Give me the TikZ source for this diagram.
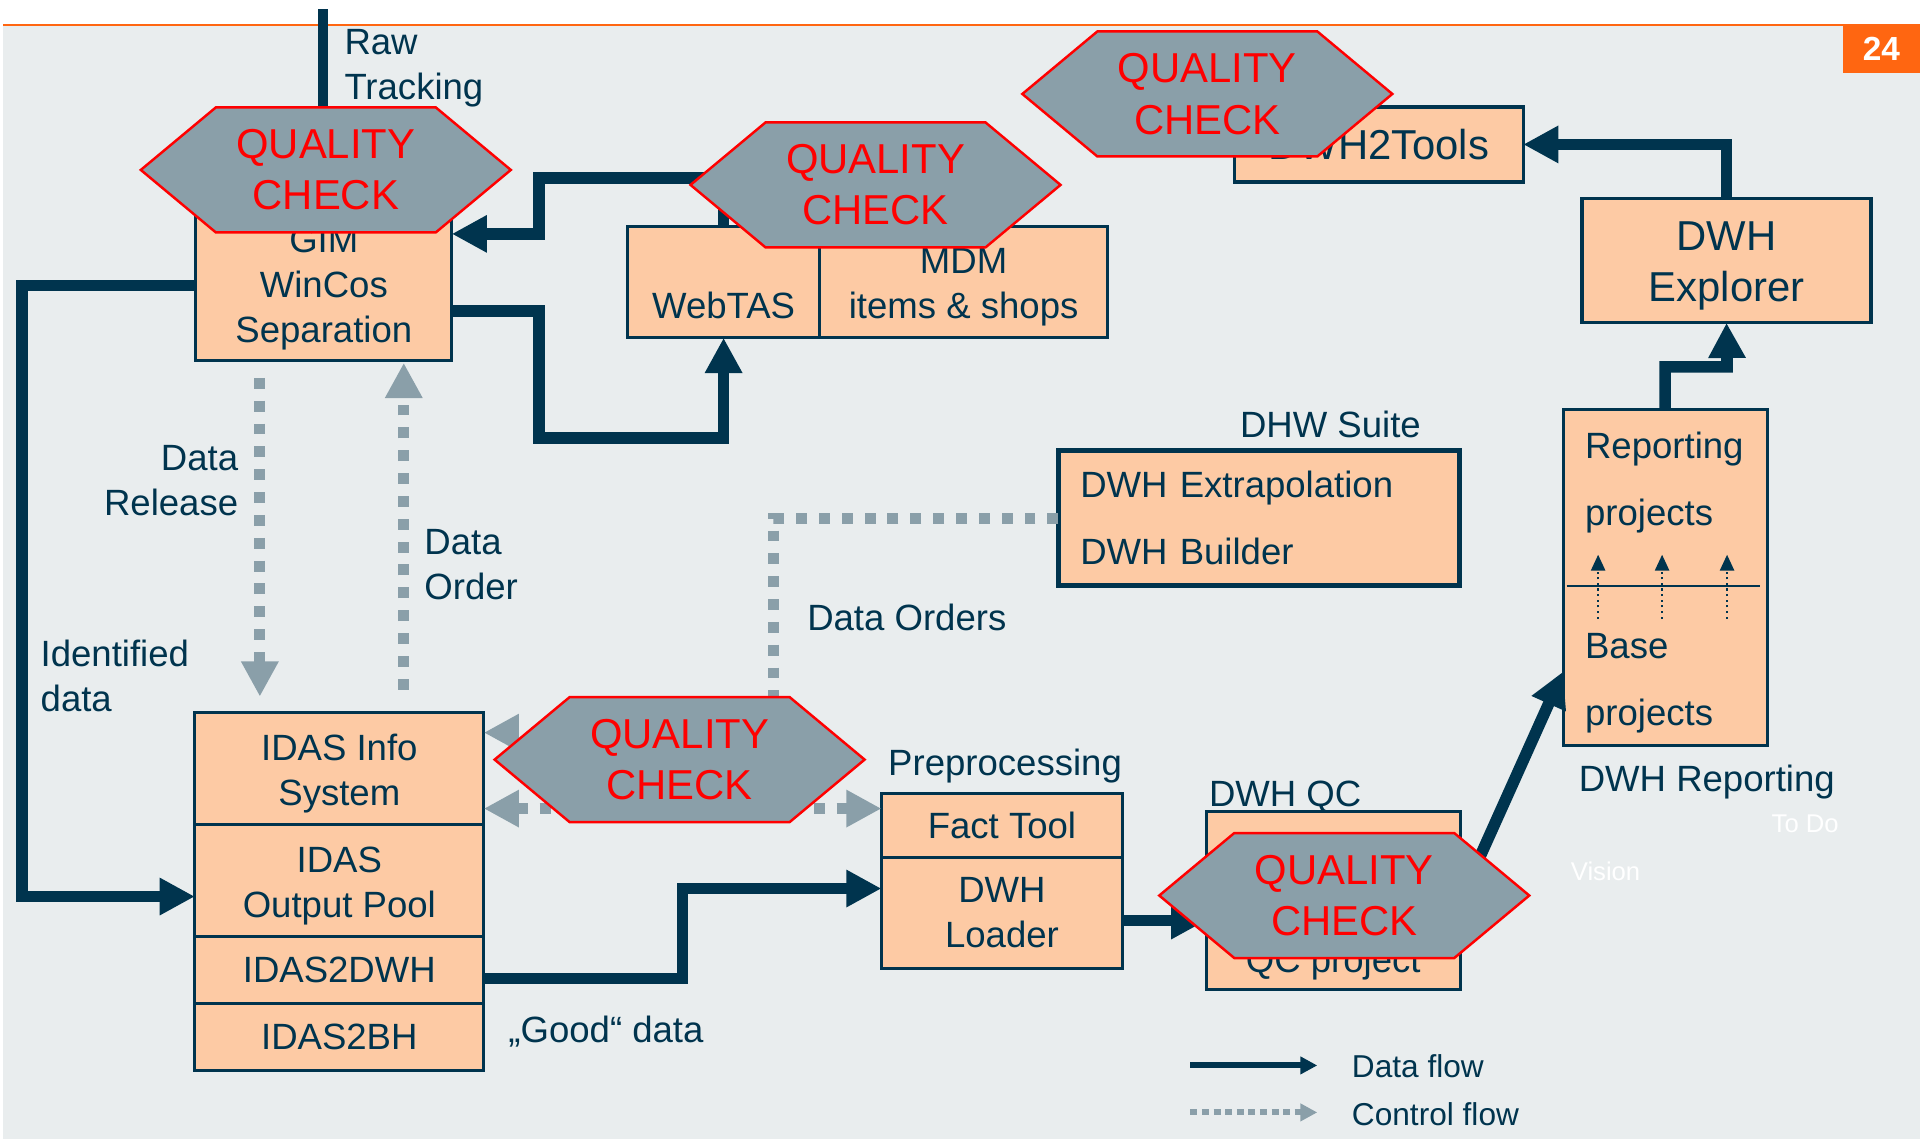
\documentclass[tikz,border=0pt]{standalone}
\usepackage{fontspec}
\setmainfont{Liberation Sans}
\usetikzlibrary{arrows.meta, positioning, shapes.symbols}

\definecolor{navy}{HTML}{00344E}
\definecolor{peach}{HTML}{FDCAA4}
\definecolor{slate}{HTML}{8A9FA9}
\definecolor{panel}{HTML}{E9EDEE}
\definecolor{brand}{HTML}{FF6611}

\begin{document}
\begin{tikzpicture}[
    x=0.01cm, y=-0.01cm,
    font=\fontsize{10.4}{12.8}\selectfont,
    box/.style={rectangle, draw=navy, line width=0.9pt, fill=peach, text=navy, align=center, inner sep=0pt, outer sep=0pt},
    wide/.style={font=\fontsize{10.4}{19}\selectfont, align=left, inner xsep=0.22cm},
    big/.style={font=\fontsize{11.9}{14.6}\selectfont},
    txt/.style={text=navy, inner sep=0pt},
    check/.style={signal, signal to=west and east, signal pointer angle=79.6, draw=red, line width=0.7pt, fill=slate, text=red, align=center, minimum width=3.7cm, minimum height=1.25cm, inner sep=0pt, font=\fontsize{11.9}{14.6}\selectfont},
    flow/.style={line width=3.3pt, draw=navy, -{Triangle[length=10pt, width=10pt]}},
    ctrl/.style={line width=3.1pt, draw=slate, dash pattern=on 3.1pt off 3.4pt, -{Triangle[length=10pt, width=10pt]}},
]
% slide background
\fill[white] (0,0) rectangle (1921,1141);
\fill[panel] (3.5,25) rectangle (1921,1140);
\draw[brand, line width=0.6pt] (3.5,25) -- (1921,25);
\node[fill=brand, text=white, font=\fontsize{9.5}{11}\selectfont\bfseries, minimum width=0.77cm, minimum height=0.48cm, inner sep=0pt] (page) at (1882.5,49) {24};
\useasboundingbox (0,0) rectangle (1921,1141);

% systems
\node[box, minimum width=2.56cm, minimum height=1.51cm, text height=32.6pt, text depth=0pt] (gim) at (324,285.5) {GIM\\WinCos\\Separation};
\node[box, minimum width=1.92cm, minimum height=1.11cm, text height=20.3pt, text depth=0pt] (webtas) at (724,282.5) {WebTAS};
\node[box, minimum width=2.88cm, minimum height=1.11cm, text height=20.8pt, text depth=0pt, right=0pt of webtas] (mdm) {MDM\\items \& shops};
\node[box, big, minimum width=2.89cm, minimum height=0.75cm] (dwhtools) at (1379.5,144.5) {DWH2Tools};
\node[box, big, minimum width=2.89cm, minimum height=1.24cm, text height=23.4pt, text depth=0pt] (explorer) at (1727.5,261) {DWH\\Explorer};
\node[box, wide, text width=1.6cm, minimum height=3.36cm, text height=10.3pt] (reporting) at (1666,578) {Reporting\\projects\\\mbox{}\\Base\\projects};
\draw[navy, line width=0.6pt, shorten <=1pt, shorten >=2pt] (reporting.west |- 0,586) -- (reporting.east |- 0,586);
\foreach \x in {1599,1663,1728}
    \draw[navy, densely dotted, line width=0.6pt, -{Triangle[length=4.5pt, width=4pt]}] (\x,619) -- (\x,555);
\node[box, wide, text width=3.57cm, minimum height=1.35cm, line width=1.4pt] (suite) at (1259.5,518.5) {DWH Extrapolation\\DWH Builder};
\node[box, minimum width=2.54cm, minimum height=1.78cm, text height=40.9pt, text depth=0pt] (dwhqc) at (1334,901) {QC project};
\node[box, minimum width=2.41cm, minimum height=0.64cm] (facttool) at (1002.5,826) {Fact Tool};
\node[box, minimum width=2.41cm, minimum height=1.11cm, below=0pt of facttool] (loader) {DWH\\Loader};
\node[box, minimum width=2.89cm, minimum height=1.12cm, text height=21pt, text depth=0pt] (info) at (339.5,769) {IDAS Info\\System};
\node[box, minimum width=2.89cm, minimum height=1.12cm, text height=21pt, text depth=0pt, below=0pt of info] (pool) {IDAS\\Output Pool};
\node[box, minimum width=2.89cm, minimum height=0.67cm, below=0pt of pool] (todwh) {IDAS2DWH};
\node[box, minimum width=2.89cm, minimum height=0.67cm, below=0pt of todwh] (tobh) {IDAS2BH};

% labels
\node[txt, align=left, anchor=west] (raw) at (344,68) {Raw\\Tracking};
\node[txt, align=right, anchor=east] (release) at (239,480.5) {Data\\Release};
\node[txt, align=left, anchor=west] (order) at (424,565) {Data\\Order};
\node[txt, align=left, anchor=west] (identified) at (40,676) {Identified\\data};
\node[txt, anchor=base west] (orders) at (807,631) {Data Orders};
\node[txt, anchor=base west] (suitelbl) at (1240,438) {DHW Suite};
\node[txt, anchor=base west] (prep) at (888,776) {Preprocessing};
\node[txt, anchor=base west] (qclbl) at (1209,807) {DWH QC};
\node[txt, anchor=base west] (replbl) at (1579,792) {DWH Reporting};
\node[txt, anchor=base west] (good) at (508,1043) {„Good“ data};
\node[txt, anchor=base west, text=white, font=\fontsize{7.3}{9}\selectfont] (todo) at (1772,833) {To Do};
\node[txt, anchor=base west, text=white, font=\fontsize{7.3}{9}\selectfont] (vision) at (1571,881) {Vision};

% data flow
\coordinate (rawtop) at (323,9);
\draw[navy, line width=2.8pt] (rawtop) -- (gim.north -| rawtop);
\draw[flow] (webtas.north) |- (539,178) |- (gim.east |- 0,234);
\draw[flow] (gim.east |- 0,311) -| (539,438) -| (webtas.south);
\draw[flow] (gim.west) -| (22,897) -- (pool.west |- 0,897);
\draw[flow] (todwh.east |- 0,979) -| (683,889) -- (loader.west |- 0,889);
\draw[flow] (loader.east |- 0,921) -- (dwhqc.west |- 0,921);
\draw[flow] (dwhqc.east) -- (reporting.west |- 0,672);
\draw[flow] (reporting.north) |- (1728,367) -- (explorer.south);
\draw[flow] (explorer.north) |- (dwhtools.east);

% control flow
\draw[ctrl, shorten <=0.17cm, shorten >=0.16cm] (gim.south -| 260,0) -- (info.north -| 260,0);
\draw[ctrl, shorten <=0.23cm, shorten >=0.02cm] (info.north -| 404,0) -- (gim.south -| 404,0);
\draw[ctrl] (suite.west) -| (774,733) -- (info.east |- 0,733);
\draw[ctrl, {Triangle[length=10pt, width=10pt]}-{Triangle[length=10pt, width=10pt]}] (info.east |- 0,809) -- (facttool.west |- 0,809);

% quality checks
\node[check] (qcgim) at (326,170) {QUALITY\\CHECK};
\node[check] (qcweb) at (876,185) {QUALITY\\CHECK};
\node[check] (qctools) at (1208,94) {QUALITY\\CHECK};
\node[check] (qcidas) at (680,760) {QUALITY\\CHECK};
\node[check] (qcdwh) at (1345,896) {QUALITY\\CHECK};

% legend
\coordinate (flowA) at (1191,1066);
\coordinate (flowB) at (1318,1066);
\coordinate (ctrlA) at (1191,1113);
\coordinate (ctrlB) at (1318,1113);
\draw[navy, line width=1.7pt, -{Triangle[length=4.8pt, width=4.8pt]}] (flowA) -- (flowB);
\draw[slate, line width=1.7pt, dash pattern=on 2pt off 1.3pt, -{Triangle[length=4.8pt, width=4.8pt]}] (ctrlA) -- (ctrlB);
\node[txt, anchor=base west, font=\fontsize{9}{11}\selectfont] (legflow) at (1352,1078) {Data flow};
\node[txt, anchor=base west, font=\fontsize{9}{11}\selectfont] (legctrl) at (1352,1126) {Control flow};
\end{tikzpicture}
\end{document}
